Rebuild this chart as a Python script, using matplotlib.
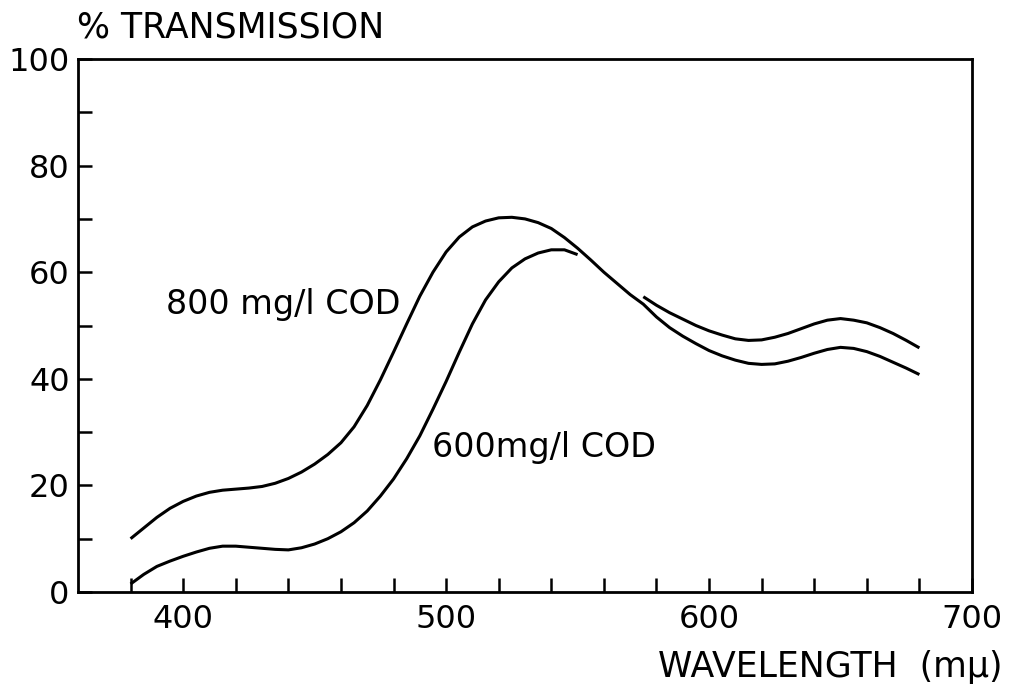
import matplotlib.pyplot as plt
import numpy as np

# Datos (longitud de onda en m-mu, % transmision)
wl_800 = [380, 385, 390, 395, 400, 405, 410, 415, 420, 425, 430, 435, 440, 445,
          450, 455, 460, 465, 470, 475, 480, 485, 490, 495, 500, 505, 510, 515,
          520, 525, 530, 535, 540, 545, 550, 555, 560, 565, 570, 575, 580, 585,
          590, 595, 600, 605, 610, 615, 620, 625, 630, 635, 640, 645, 650, 655,
          660, 665, 670, 675, 680]
t_800 = [10.0, 12.0, 14.0, 15.7, 17.0, 18.0, 18.7, 19.1, 19.3, 19.5, 19.8, 20.4,
         21.3, 22.5, 24.0, 25.8, 28.0, 31.0, 35.0, 39.8, 45.0, 50.3, 55.5, 60.0,
         63.8, 66.6, 68.5, 69.6, 70.2, 70.3, 70.0, 69.3, 68.2, 66.5, 64.5, 62.3,
         60.0, 57.9, 55.8, 54.0, 51.6, 49.6, 48.0, 46.6, 45.3, 44.3, 43.5, 42.9,
         42.7, 42.8, 43.3, 44.0, 44.8, 45.5, 45.9, 45.7, 45.1, 44.2, 43.1, 42.0,
         40.8]

wl_600 = [380, 385, 390, 395, 400, 405, 410, 415, 420, 425, 430, 435, 440, 445,
          450, 455, 460, 465, 470, 475, 480, 485, 490, 495, 500, 505, 510, 515,
          520, 525, 530, 535, 540, 545, 550, 562,
          575, 580, 585, 590, 595, 600, 605, 610, 615, 620, 625, 630, 635, 640,
          645, 650, 655, 660, 665, 670, 675, 680]
t_600 = [1.5, 3.3, 4.8, 5.8, 6.7, 7.5, 8.2, 8.6, 8.6, 8.4, 8.2, 8.0, 7.9, 8.3,
         9.0, 10.0, 11.3, 13.0, 15.2, 18.0, 21.2, 25.0, 29.3, 34.3, 39.5, 45.0,
         50.3, 54.8, 58.2, 60.8, 62.5, 63.6, 64.2, 64.2, 63.3, np.nan,
         55.4, 53.8, 52.4, 51.2, 50.0, 49.0, 48.2, 47.5, 47.2, 47.3, 47.8, 48.5,
         49.4, 50.3, 51.0, 51.3, 51.0, 50.5, 49.6, 48.5, 47.2, 45.8]

x_ticks = list(range(380, 701, 20))
x_labels = [str(v) if v % 100 == 0 else '' for v in x_ticks]
y_ticks = list(range(0, 101, 10))
y_labels = [str(v) if v % 20 == 0 else '' for v in y_ticks]

fs = 24

fig = plt.figure(figsize=(10.14, 6.85), dpi=100)
ax = fig.add_axes([78 / 1014, 1 - 592 / 685, (972 - 78) / 1014, (592 - 59) / 685])

ax.plot(wl_800, t_800, color='black', lw=2.2, solid_capstyle='butt')
ax.plot(wl_600, t_600, color='black', lw=2.2, solid_capstyle='butt')

ax.set_xlim(360, 700)
ax.set_ylim(0, 100)
ax.set_xticks(x_ticks)
ax.set_xticklabels(x_labels)
ax.set_yticks(y_ticks)
ax.set_yticklabels(y_labels)
ax.tick_params(direction='in', length=10, width=1.8, labelsize=fs - 1, color='black')
ax.tick_params(axis='x', pad=9)
ax.tick_params(axis='y', pad=6)
for s in ax.spines.values():
    s.set_linewidth(2)

# Etiquetas de las curvas
ax.text(393.5, 52.1, '800 mg/l COD', fontsize=fs, ha='left', va='baseline')
ax.text(494.8, 25.4, '600mg/l COD', fontsize=fs, ha='left', va='baseline')

# Titulos de los ejes
fig.text(77 / 1014, 1 - 38 / 685, '% TRANSMISSION', fontsize=fs + 1, ha='left', va='baseline')
fig.text(1002 / 1014, 1 - 677 / 685, 'WAVELENGTH  (mμ)', fontsize=fs + 1, ha='right', va='baseline')

fig.savefig('out.png', dpi=100)
